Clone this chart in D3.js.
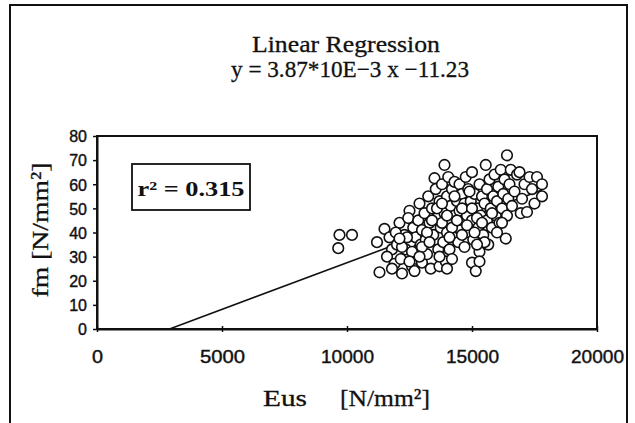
<!DOCTYPE html>
<html><head><meta charset="utf-8">
<script src="https://cdn.jsdelivr.net/npm/d3@7"></script>
<style>body{margin:0;background:#fff}svg{display:block}</style>
</head><body>
<svg id="c" width="635" height="423"></svg>
<script>
const title = "Linear Regression";
const equation = "y = 3.87*10E\u22123 x \u221211.23";
const rLabel = "r\u00b2 = 0.315";
const yLabel = "fm [N/mm\u00b2]";
const xLabelA = "Eus";
const xLabelB = "[N/mm\u00b2]";
const xTicks = [0, 5000, 10000, 15000, 20000];
const yTicks = [0, 10, 20, 30, 40, 50, 60, 70, 80];
const slope = 3.87e-3, intercept = -11.23;
const lineEndX = 17800;
// [Eus, fm]
const points = [
[9700,39],[10200,39],[9650,33.5],
[11300,23.5],[11200,36],[11500,41.5],[11700,38],[11800,33],[11600,30],[11900,27],[12000,35],[12100,44],
[12200,23],[12300,39],[12400,31],[12500,49],[12600,26],[12700,24],[12650,42],[12550,36],[12450,46],
[11950,40],[12150,29],[12350,33],[12750,38],[12800,29],[12850,45],[12900,52],[12950,35],[13000,27.5],
[13000,41],[13100,48],[13150,37],[13200,31],[13250,55],[13300,44],[13350,25],[13400,50],[13450,39],
[13500,62.5],[13550,58],[13600,46],[13650,33],[13700,26],[13700,53],[13750,42],[13800,60],[13850,36],
[13900,68],[13900,48],[13950,28],[14000,55],[14000,40],[14050,63],[14100,45],[14100,33],[14150,51],
[14200,58],[14250,38],[14300,47],[14300,61],[14350,43],[14400,53],[14450,36],[14500,60],[14500,49],
[14550,41],[14600,56],[14650,45],[14700,52],[14700,34],[14750,63],[14800,47],[14850,58],[14900,40],
[14950,53],[15000,65],[15000,27.5],[15000,45],[15050,37],[15100,56],[15150,24],[15200,50],[15250,42],
[15300,60],[15300,32],[15350,47],[15400,55],[15450,39],[15500,52],[15550,68],[15600,45],[15600,58],
[15650,35],[15700,62],[15750,50],[15800,42],[15850,55],[15900,64],[15950,47],[16000,53],[16050,59],
[16100,44],[16150,66],[16200,50],[16250,56],[16300,62],[16350,37.5],[16400,72],[16400,47],[16450,54],
[16500,60],[16550,66],[16600,51],[16700,57],[16800,64],[16900,65],[16950,48],[17000,54],[17100,60],
[17200,48.5],[17300,63],[17400,58],[17500,52],[17600,63],[17800,60],[17800,55],
[13600,50],[13800,44],[14000,47],[14200,42],[14400,45],[14600,50],[14800,43],[15000,50],[15200,46],
[13400,45],[13200,40],[13800,52],[14300,55],[14900,57],[15400,44],[15800,48],[16200,44],[12400,38],
[12200,34],[12600,32],[13000,34],[13300,36],[14100,38],[14600,39],[15100,40],[15500,36],[16000,40],
[13700,30],[14200,29],[15300,28],[14000,25],[15200,35],[12900,30],[12100,37.5],[11800,25],[12500,28]
];

const svg = d3.select("#c");
const m = {l: 97, r: 597, t: 136, b: 329};
const x = d3.scaleLinear().domain([0, 20000]).range([m.l, m.r]);
const y = d3.scaleLinear().domain([0, 80]).range([m.b, m.t]);

svg.append("rect").attr("x", 10).attr("y", 5).attr("width", 617).attr("height", 430)
  .attr("fill", "none").attr("stroke", "#111").attr("stroke-width", 2);

const serif = "'Liberation Serif','Times New Roman',serif";
const sans = "'Liberation Sans',Arial,sans-serif";

svg.append("text").attr("x", 346).attr("y", 52).attr("text-anchor", "middle")
  .attr("font-family", serif).attr("font-size", 23).attr("fill", "#111")
  .attr("stroke", "#111").attr("stroke-width", 0.3)
  .attr("textLength", 188).attr("lengthAdjust", "spacingAndGlyphs").text(title);
svg.append("text").attr("x", 350).attr("y", 77).attr("text-anchor", "middle")
  .attr("font-family", serif).attr("font-size", 23).attr("fill", "#111")
  .attr("stroke", "#111").attr("stroke-width", 0.3)
  .attr("textLength", 238).attr("lengthAdjust", "spacingAndGlyphs").text(equation);

svg.append("rect").attr("x", m.l).attr("y", m.t).attr("width", m.r - m.l).attr("height", m.b - m.t)
  .attr("fill", "none").attr("stroke", "#111").attr("stroke-width", 2);

const ya = svg.append("g").attr("transform", `translate(${m.l},0)`)
  .call(d3.axisLeft(y).tickValues(yTicks).tickSize(4).tickPadding(4).tickSizeOuter(0));
ya.select(".domain").attr("stroke", "#111").attr("stroke-width", 2);
ya.selectAll(".tick line").attr("stroke", "#111").attr("stroke-width", 1.5);
ya.selectAll(".tick text").attr("font-family", sans).attr("font-size", 16).attr("fill", "#111")
  .attr("stroke", "#111").attr("stroke-width", 0.4)
  .attr("dy", "0.36em").attr("x", -10);

const xa = svg.append("g").attr("transform", `translate(0,${m.b})`)
  .call(d3.axisBottom(x).tickValues(xTicks).tickSize(3).tickPadding(0).tickSizeOuter(0).tickFormat(d3.format("d")));
xa.select(".domain").attr("stroke", "#111").attr("stroke-width", 2);
xa.selectAll(".tick line").attr("stroke", "#111").attr("stroke-width", 1.5).attr("y1", -3);
xa.selectAll(".tick text").attr("font-family", sans).attr("font-size", 18).attr("fill", "#111")
  .attr("stroke", "#111").attr("stroke-width", 0.4)
  .attr("y", 34).attr("dy", 0)
  .attr("textLength", d => d === 0 ? 11 : (String(d).length === 4 ? 45 : 53))
  .attr("lengthAdjust", "spacingAndGlyphs");

const x0 = -intercept / slope;
svg.append("line")
  .attr("x1", x(x0)).attr("y1", y(slope * x0 + intercept))
  .attr("x2", x(lineEndX)).attr("y2", y(slope * lineEndX + intercept))
  .attr("stroke", "#111").attr("stroke-width", 1.6);

svg.append("g").selectAll("circle").data(points).join("circle")
  .attr("cx", d => x(d[0])).attr("cy", d => y(d[1])).attr("r", 5.3)
  .attr("fill", "#fff").attr("stroke", "#111").attr("stroke-width", 1.6);

svg.append("rect").attr("x", 132).attr("y", 164).attr("width", 118).attr("height", 46)
  .attr("fill", "#fff").attr("stroke", "#111").attr("stroke-width", 1.8);
svg.append("text").attr("x", 191).attr("y", 196).attr("text-anchor", "middle")
  .attr("font-family", serif).attr("font-weight", "bold").attr("font-size", 21).attr("fill", "#111")
  .attr("textLength", 107).attr("lengthAdjust", "spacingAndGlyphs").text(rLabel);

svg.append("text").attr("transform", "translate(48,230) rotate(-90)").attr("text-anchor", "middle")
  .attr("font-family", serif).attr("font-size", 24).attr("fill", "#111")
  .attr("stroke", "#111").attr("stroke-width", 0.3)
  .attr("textLength", 135).attr("lengthAdjust", "spacingAndGlyphs").text(yLabel);

svg.append("text").attr("x", 263).attr("y", 406)
  .attr("font-family", serif).attr("font-size", 24).attr("fill", "#111")
  .attr("stroke", "#111").attr("stroke-width", 0.3)
  .attr("textLength", 44).attr("lengthAdjust", "spacingAndGlyphs").text(xLabelA);
svg.append("text").attr("x", 340).attr("y", 406)
  .attr("font-family", serif).attr("font-size", 24).attr("fill", "#111")
  .attr("stroke", "#111").attr("stroke-width", 0.3)
  .attr("textLength", 90).attr("lengthAdjust", "spacingAndGlyphs").text(xLabelB);
</script>
</body></html>
